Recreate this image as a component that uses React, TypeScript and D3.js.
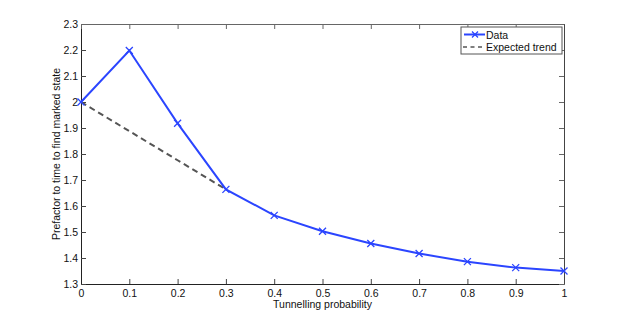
import React, { useEffect, useRef } from "react";
import * as d3 from "d3";

const probs = [0, 0.1, 0.2, 0.3, 0.4, 0.5, 0.6, 0.7, 0.8, 0.9, 1];
const prefactor = [2.0, 2.198, 1.918, 1.664, 1.564, 1.503, 1.456, 1.417, 1.386, 1.363, 1.35];
const trendX = [0, 0.1, 0.2, 0.3];
const trendY = [2.0, 1.888, 1.776, 1.664];
const xTicks = [0, 0.1, 0.2, 0.3, 0.4, 0.5, 0.6, 0.7, 0.8, 0.9, 1];
const yTicks = [1.3, 1.4, 1.5, 1.6, 1.7, 1.8, 1.9, 2, 2.1, 2.2, 2.3];
const legendLabels = ["Data", "Expected trend"];

const BLUE = "#2b45ff";
const GREY = "#555";

const App = () => {
  const ref = useRef<SVGSVGElement | null>(null);

  useEffect(() => {
    const svg = d3.select(ref.current);
    svg.selectAll("*").remove();

    const left = 81, right = 564, top = 24, bottom = 284;
    const font = "'Liberation Sans', Arial, sans-serif";
    const fs = "10.5px";

    const x = d3.scaleLinear().domain([0, 1]).range([left, right]);
    const y = d3.scaleLinear().domain([1.3, 2.3]).range([bottom, top]);

    // axes (MATLAB-style box, ticks inward)
    svg.append("g")
      .attr("transform", `translate(0,${bottom})`)
      .call(d3.axisBottom(x).tickValues(xTicks).tickSizeInner(-5).tickSizeOuter(0).tickPadding(6).tickFormat(d3.format("")))
      .call(g => g.select(".domain").attr("stroke", "#222"))
      .call(g => g.selectAll(".tick line").attr("stroke", "#444"))
      .selectAll("text").style("font-size", fs).style("font-family", font).attr("fill", "#111");

    svg.append("g")
      .attr("transform", `translate(${left},0)`)
      .call(d3.axisLeft(y).tickValues(yTicks).tickSizeInner(-5).tickSizeOuter(0).tickPadding(3).tickFormat(d3.format("")))
      .call(g => g.select(".domain").attr("stroke", "#222"))
      .call(g => g.selectAll(".tick line").attr("stroke", "#444"))
      .selectAll("text").style("font-size", fs).style("font-family", font).attr("fill", "#111");

    svg.append("g")
      .attr("transform", `translate(0,${top})`)
      .call(d3.axisTop(x).tickValues(xTicks).tickSizeInner(-5).tickSizeOuter(0).tickFormat(() => ""))
      .call(g => g.select(".domain").attr("stroke", "#666"))
      .call(g => g.selectAll(".tick line").attr("stroke", "#666"));

    svg.append("g")
      .attr("transform", `translate(${right},0)`)
      .call(d3.axisRight(y).tickValues(yTicks).tickSizeInner(-5).tickSizeOuter(0).tickFormat(() => ""))
      .call(g => g.select(".domain").attr("stroke", "#444"))
      .call(g => g.selectAll(".tick line").attr("stroke", "#666"));

    // expected trend
    const trend = trendX.map((v, i) => [v, trendY[i]] as [number, number]);
    svg.append("path")
      .datum(trend)
      .attr("fill", "none")
      .attr("stroke", GREY)
      .attr("stroke-width", 2)
      .attr("stroke-dasharray", "6,4")
      .attr("d", d3.line<[number, number]>().x(d => x(d[0])).y(d => y(d[1])));

    // data line
    const data = probs.map((v, i) => [v, prefactor[i]] as [number, number]);
    svg.append("path")
      .datum(data)
      .attr("fill", "none")
      .attr("stroke", BLUE)
      .attr("stroke-width", 2)
      .attr("d", d3.line<[number, number]>().x(d => x(d[0])).y(d => y(d[1])));

    const m = 3.5;
    svg.selectAll(".mk")
      .data(data)
      .join("path")
      .attr("class", "mk")
      .attr("fill", "none")
      .attr("stroke", BLUE)
      .attr("stroke-width", 1.3)
      .attr("d", d => {
        const cx = x(d[0]), cy = y(d[1]);
        return `M${cx - m},${cy - m}L${cx + m},${cy + m}M${cx - m},${cy + m}L${cx + m},${cy - m}`;
      });

    // legend
    const lg = svg.append("g");
    lg.append("rect")
      .attr("x", 461).attr("y", 27).attr("width", 101).attr("height", 27)
      .attr("fill", "white").attr("stroke", "#555").attr("stroke-width", 1);
    lg.append("line").attr("x1", 464).attr("x2", 485).attr("y1", 34.5).attr("y2", 34.5)
      .attr("stroke", BLUE).attr("stroke-width", 2);
    lg.append("path")
      .attr("d", `M${475 - 3},${34.5 - 3}L${475 + 3},${34.5 + 3}M${475 - 3},${34.5 + 3}L${475 + 3},${34.5 - 3}`)
      .attr("stroke", BLUE).attr("stroke-width", 1.3);
    lg.append("line").attr("x1", 463).attr("x2", 485).attr("y1", 47).attr("y2", 47)
      .attr("stroke", GREY).attr("stroke-width", 1.5).attr("stroke-dasharray", "4,3.5");
    legendLabels.forEach((t, i) => {
      lg.append("text")
        .attr("x", 486).attr("y", 38.5 + i * 12)
        .style("font-size", fs).style("font-family", font).attr("fill", "#111")
        .text(t);
    });

    // axis labels
    svg.append("text")
      .attr("x", (left + right) / 2).attr("y", 308)
      .attr("text-anchor", "middle")
      .style("font-size", fs).style("font-family", font).attr("fill", "#111")
      .text("Tunnelling probability");

    svg.append("text")
      .attr("transform", `translate(60,${(top + bottom) / 2}) rotate(-90)`)
      .attr("text-anchor", "middle")
      .style("font-size", fs).style("font-family", font).attr("fill", "#111")
      .text("Prefactor to time to find marked state");
  }, []);

  return (
    <svg ref={ref} width={623} height={320}
      style={{ position: "absolute", left: 0, top: 0, background: "white" }} />
  );
};

export default App;
